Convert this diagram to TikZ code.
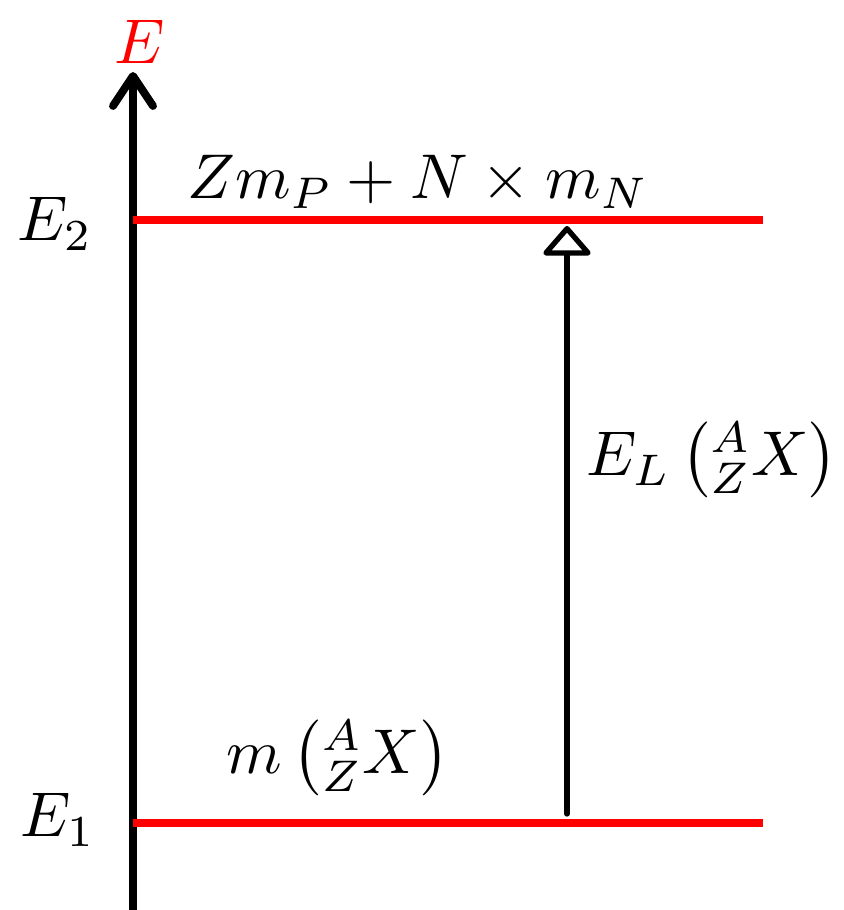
\documentclass[tikz,border=0pt]{standalone}
\usetikzlibrary{arrows.meta}
\tikzset{
  lbl/.style={scale=3.6, inner sep=0pt},
  level/.style={draw=red, line width=4pt},
  axisline/.style={line width=4.5pt, line cap=round, -{Straight Barb[length=0.6cm, width=0.8cm, line cap=round, line join=round]}},
  trans/.style={line width=3pt, line cap=round, -{Triangle[open, length=0.62cm, width=1.05cm, round]}}
}
\begin{document}
\begin{tikzpicture}[x=0.02cm,y=-0.02cm]
\useasboundingbox (0,0) rectangle (844,910);
\coordinate (ab) at (133,915);
\coordinate (at) at (133,72);
\draw[axisline] (ab) -- (at);
\coordinate (l2a) at (133,220);
\coordinate (l2b) at (763,220);
\coordinate (l1a) at (133,823);
\coordinate (l1b) at (763,823);
\draw[level] (l2a) -- (l2b);
\draw[level] (l1a) -- (l1b);
\coordinate (tb) at (567,814);
\coordinate (tt) at (567,226);
\draw[trans] (tb) -- (tt);
\node[lbl, text=red] (E) at (140,42) {$E$};
\node[lbl] (E2) at (55,224) {$E_2$};
\node[lbl] (E1) at (58,820) {$E_1$};
\node[lbl] (top) at (418,182) {$Z m_P + N\times m_N$};
\node[lbl] (mX) at (338,758) {$m\left({}^{A}_{Z}X\right)$};
\node[lbl] (EL) at (712,460) {$E_L\left({}^{A}_{Z}X\right)$};
\end{tikzpicture}
\end{document}
